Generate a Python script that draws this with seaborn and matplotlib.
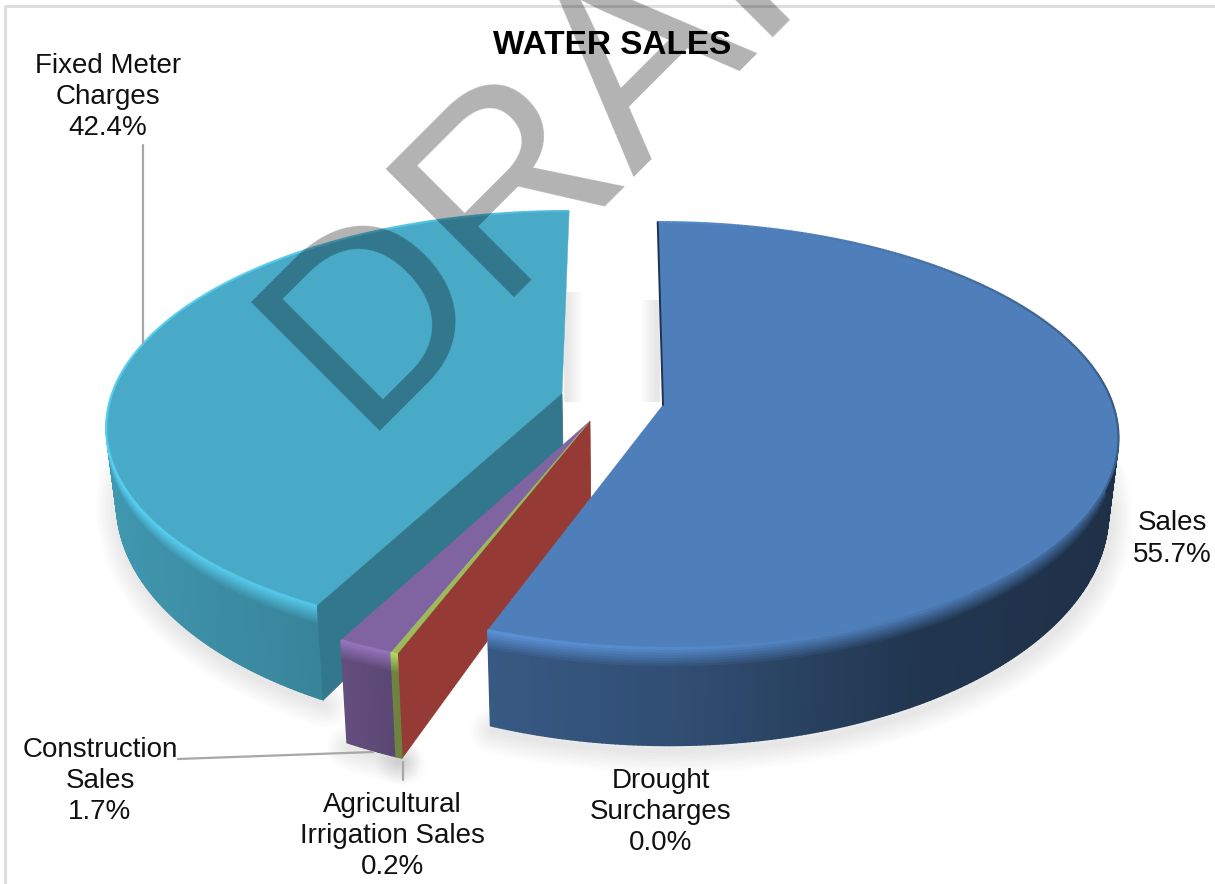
import numpy as np
import matplotlib
matplotlib.use("Agg")
import matplotlib.pyplot as plt
import seaborn as sns
from matplotlib.collections import PolyCollection, LineCollection

# Revenue shares, in pie order starting at twelve o'clock and running clockwise
categories = ["Sales", "Drought\nSurcharges", "Agricultural\nIrrigation Sales",
              "Construction\nSales", "Fixed Meter\nCharges"]
shares = [55.7, 0.0, 0.2, 1.7, 42.4]
chart_title = "WATER SALES"
watermark = "DRAFT"

sns.set_theme(style="white")
plt.rcParams["font.family"] = ["Liberation Sans", "DejaVu Sans"]
palette = sns.color_palette(["#4F7FBB", "#953A35", "#9BBB59", "#8064A2", "#48AAC6"])

# Perspective disc: radius, foreshortened depth, thickness, camera strength
RADIUS, HALF_DEPTH, THICK, PERSP, VANISH_X = 450.0, 208.7, 72.0, 0.141, 620.0
# Where each slice's tip sits once the slices are pulled apart
tips = [(663, 405), (590, 421), (590, 421), (590, 421), (562, 394)]
# The pulled-out slices sit nearer the camera, so they read slightly larger
reach = [1.0, 1.03, 1.03, 1.03, 1.0]
drop = [THICK, THICK * 1.08, THICK * 1.08, THICK * 1.08, THICK]


def project(tip, theta, r=1.0, depth=0.0):
    """Map pie polar coordinates (degrees) onto the tilted disc, in pixels."""
    t = np.radians(theta)
    u, v = r * np.cos(t), -r * np.sin(t)
    den = 1 - PERSP * v
    x = VANISH_X + (tip[0] - VANISH_X + RADIUS * u) / den
    y = tip[1] + HALF_DEPTH * v / den + depth / den ** 2
    x = VANISH_X + (x - VANISH_X) * (1 - 0.02 * depth / THICK)
    return np.column_stack([x, y])


def side_factor(u):
    return np.interp(u, [-1, -0.46, -0.35, 0, 0.5, 1], [0.9, 0.78, 0.7, 0.62, 0.42, 0.38])


def rim_factor(u):
    return np.interp(u, [-1, -0.4, 0, 0.3, 0.6, 1], [1.22, 1.15, 1.08, 1.0, 0.9, 0.72])


def tone(color, f):
    return tuple(np.clip(np.asarray(color) * f, 0, 1))


fig = plt.figure(figsize=(12.15, 8.84), dpi=100)
ax = fig.add_axes([0, 0, 1, 1])

# The pie call supplies the slice angles; the tilted faces are built from them.
# Each span is (clockwise end, clockwise start) in degrees.
wedges, _ = ax.pie(shares, startangle=90, counterclock=False, radius=1)
spans = [(w.theta1, w.theta2) for w in wedges]
for w in wedges:
    w.remove()
ax.set_aspect("auto")
ax.set_xlim(0, 1215)
ax.set_ylim(884, 0)
ax.axis("off")

# Light frame along the top and left edges
ax.plot([5, 5, 1215], [884, 6, 6], color="#dcdcdc", lw=2, zorder=0, clip_on=False)


def arc_angles(span):
    n = max(3, int(abs(span[1] - span[0]) * 2))
    return np.linspace(span[0], span[1], n)


# Soft ground shadow under the outer wall of the disc
for i, (span, tip) in enumerate(zip(spans, tips)):
    if span[1] - span[0] < 0.01:
        continue
    th = arc_angles(span)
    low = project(tip, th[np.sin(np.radians(th)) < 0.25], r=reach[i], depth=drop[i])
    if len(low) < 2:
        continue
    for w in range(4, 34, 4):
        ax.plot(low[:, 0] + 2, low[:, 1] + 5, color="#555555", lw=w, alpha=0.016,
                solid_capstyle="round", zorder=1)

# Faint shadows on the back wall of the gap between the slices
for dx in range(2, 18, 2):
    ax.fill_betweenx([292, 402], 564, 566 + dx, color="#777777", alpha=0.018, lw=0, zorder=1)
    ax.fill_betweenx([300, 402], 657 - dx, 660, color="#777777", alpha=0.018, lw=0, zorder=1)


def draw_cut_face(i, theta, factor, z):
    tip = tips[i]
    outer_top = project(tip, theta, r=reach[i])[0]
    outer_low = project(tip, theta, r=reach[i], depth=drop[i])[0]
    tip_low = project(tip, theta, r=0.0, depth=drop[i])[0]
    ax.fill([tip[0], outer_top[0], outer_low[0], tip_low[0]],
            [tip[1], outer_top[1], outer_low[1], tip_low[1]],
            color=tone(palette[i], factor), lw=0.6, zorder=z)


def draw_slice(i, z):
    tip, span, base = tips[i], spans[i], palette[i]
    if span[1] - span[0] < 0.01:
        return
    th = arc_angles(span)
    quads, colors = [], []
    # Outer wall: a graded bevel just under the rim, then the shaded wall.
    # Only the part of the wall that faces the viewer is built.
    levels = np.r_[np.linspace(0, 14, 8), drop[i]]
    for a, b in zip(th[:-1], th[1:]):
        if np.sin(np.radians(0.5 * (a + b))) > 0.15:
            continue
        um = np.cos(np.radians(0.5 * (a + b)))
        hi = np.array(tone(base, rim_factor(um)))
        lo = np.array(tone(base, side_factor(um)))
        for d0, d1 in zip(levels[:-1], levels[1:]):
            p = project(tip, np.array([a, b]), r=reach[i], depth=d0)
            q = project(tip, np.array([a, b]), r=reach[i], depth=d1)
            quads.append([p[0], p[1], q[1], q[0]])
            mix = min(d0 / 14.0, 1.0)
            colors.append(tuple((1 - mix) * hi + mix * lo))
    ax.add_collection(PolyCollection(quads, facecolors=colors, edgecolors=colors,
                                     linewidths=1.0, zorder=z))
    # Flat top face
    rim = project(tip, th, r=reach[i])
    outline = np.vstack([[tip], rim])
    ax.fill(outline[:, 0], outline[:, 1], color=base, lw=0.3, zorder=z + 0.1)
    # Rim line, lit on the left and dark on the right
    segs = np.stack([rim[:-1], rim[1:]], axis=1)
    seg_colors = [tone(base, rim_factor(np.cos(np.radians(t)))) for t in th[:-1]]
    ax.add_collection(LineCollection(segs, colors=seg_colors, linewidths=1.6, zorder=z + 0.2))


# Back to front: the large left slice, the pulled-out sliver group, then the large right slice
draw_slice(4, 3)
draw_cut_face(4, spans[4][1], 0.7, 3.5)
draw_cut_face(1, spans[1][1], 1.0, 4)
draw_slice(3, 5)
draw_slice(2, 6)
draw_slice(0, 8)
edge = np.vstack([project(tips[0], spans[0][1]), tips[0]])
ax.plot(edge[:, 0], edge[:, 1], color="#1d3350", lw=1.4, zorder=8.3)

# Leader lines
leader = dict(color="#a8a8a8", lw=1.6, zorder=9)
ax.plot([143, 143], [145, 343], **leader)
ax.plot([178, 373], [759, 752], **leader)
ax.plot([403, 403], [762, 780], **leader)

# Category labels with their percentages
label_centres = [(1172, 539), (661, 812), (392, 836), (100, 781), (108, 97)]
for name, value, (lx, ly) in zip(categories, shares, label_centres):
    ax.text(lx, ly, f"{name}\n{value:.1f}%", ha="center", va="center", fontsize=20,
            color="#111111", linespacing=1.27, zorder=10)

ax.text(612, 45, chart_title, ha="center", va="center", fontsize=24, fontweight="bold",
        color="black", zorder=10)

# Diagonal stamp over everything
ax.text(358, 431, watermark, rotation=45, rotation_mode="anchor", ha="left", va="baseline",
        fontsize=190, color="black", alpha=0.3, zorder=20)

fig.savefig("out.png", dpi=100)
